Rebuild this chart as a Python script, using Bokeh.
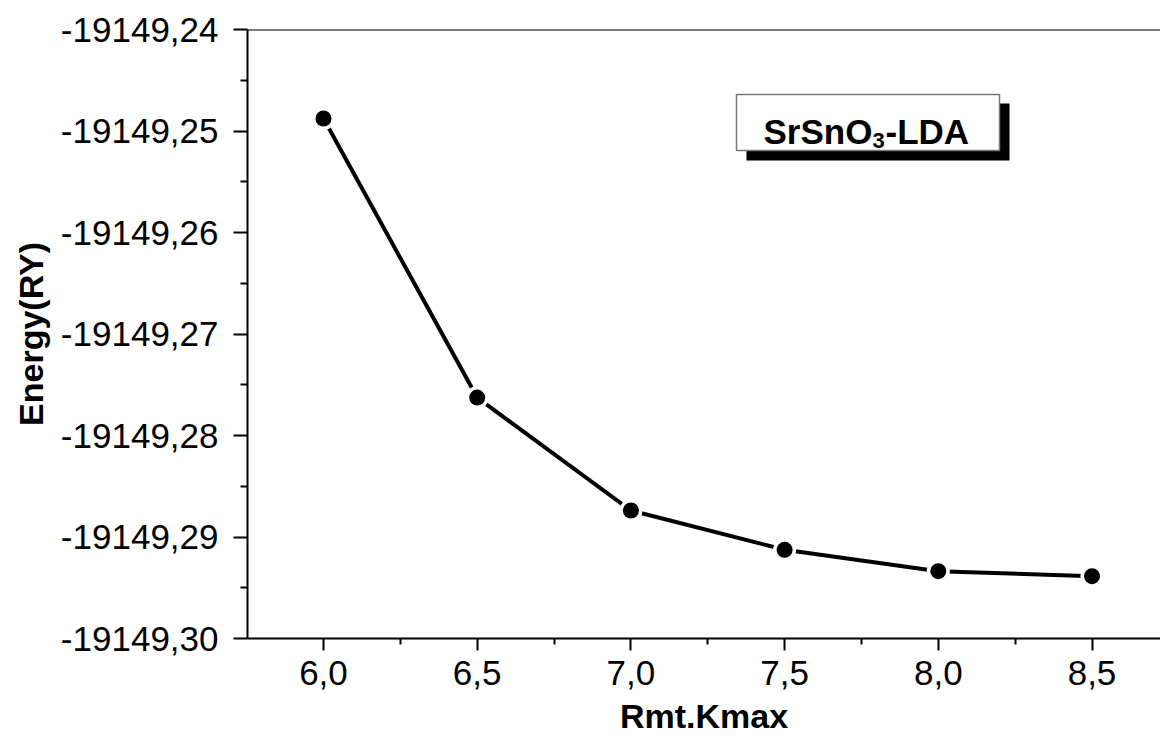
from bokeh.plotting import figure
from bokeh.models import (Range1d, FixedTicker, CustomJSTickFormatter, Span,
                          BoxAnnotation, Label)
from bokeh.embed import file_html
from bokeh.resources import INLINE

# ---- data ----
rmt_kmax = [6.0, 6.5, 7.0, 7.5, 8.0, 8.5]
energy = [-19149.24877, -19149.27626, -19149.28739, -19149.29126, -19149.29337, -19149.29386]

x_ticks = [6.0, 6.5, 7.0, 7.5, 8.0, 8.5]
x_minor = [5.75, 6.25, 6.75, 7.25, 7.75, 8.25]
y_ticks = [-19149.30, -19149.29, -19149.28, -19149.27, -19149.26, -19149.25, -19149.24]
y_minor = [-19149.295, -19149.285, -19149.275, -19149.265, -19149.255, -19149.245]

x_label = "Rmt.Kmax"
y_label = "Energy(RY)"

X0, X1 = 5.7528, 8.7228
Y0, Y1 = -19149.30, -19149.24

FONT = "Liberation Sans"

p = figure(width=1160, height=743, output_backend="svg", toolbar_location=None,
           x_range=Range1d(X0, X1), y_range=Range1d(Y0, Y1),
           min_border_left=247, min_border_right=0, min_border_top=29,
           min_border_bottom=105)
p.frame_width = 913
p.frame_height = 609
p.grid.visible = False
p.outline_line_color = None
p.background_fill_color = "white"
p.border_fill_color = "white"

for ax in (p.xaxis[0], p.yaxis[0]):
    ax.axis_line_width = 2
    ax.axis_line_color = "black"
    ax.major_tick_line_width = 2
    ax.minor_tick_line_width = 2
    ax.major_tick_line_color = "black"
    ax.minor_tick_line_color = "black"
    ax.major_tick_in = 0
    ax.minor_tick_in = 0
    ax.major_label_text_font = FONT
    ax.major_label_text_font_size = "35px"
    ax.major_label_text_color = "black"
    ax.axis_label_text_font = FONT
    ax.axis_label_text_font_style = "bold"
    ax.axis_label_text_font_size = "34px"
    ax.axis_label_text_color = "black"

p.xaxis.ticker = FixedTicker(ticks=x_ticks, minor_ticks=x_minor)
p.yaxis.ticker = FixedTicker(ticks=y_ticks, minor_ticks=y_minor)
p.xaxis.formatter = CustomJSTickFormatter(code="return tick.toFixed(1).replace('.', ',');")
p.yaxis.formatter = CustomJSTickFormatter(code="return tick.toFixed(2).replace('.', ',');")
p.xaxis.major_tick_out = 12
p.xaxis.minor_tick_out = 6
p.yaxis.major_tick_out = 14
p.yaxis.minor_tick_out = 7
p.xaxis.major_label_standoff = 10
p.yaxis.major_label_standoff = 15
p.xaxis.axis_label = x_label
p.yaxis.axis_label = y_label
p.xaxis.axis_label_standoff = 9
p.yaxis.axis_label_standoff = 8

# top frame line
p.add_layout(Span(location=Y1, dimension="width", line_color="black", line_width=2))

# data
p.line(rmt_kmax, energy, line_color="black", line_width=4)
p.scatter(rmt_kmax, energy, size=23, fill_color="white", line_color=None)
p.scatter(rmt_kmax, energy, size=16, fill_color="black", line_color=None)

# ---- helpers: pixel position -> data position ----
def px_x(px):
    return X0 + (px - 247) / 913 * (X1 - X0)

def px_y(py):
    return Y1 - (py - 29) / 609 * (Y1 - Y0)

# ---- label box ----
p.add_layout(BoxAnnotation(left=px_x(746), right=px_x(1009), top=px_y(103), bottom=px_y(160),
                           fill_color="black", fill_alpha=1, line_color=None))
p.add_layout(BoxAnnotation(left=px_x(736), right=px_x(999), top=px_y(94), bottom=px_y(150),
                           fill_color="white", fill_alpha=1, line_color="#777777",
                           line_alpha=1, line_width=1.5))

p.add_layout(Label(x=px_x(763), y=px_y(131), text="SrSnO", text_font=FONT, text_font_style="bold",
                   text_font_size="35px", text_color="black", text_baseline="alphabetic"))
p.add_layout(Label(x=px_x(872), y=px_y(140), text="3", text_font=FONT, text_font_style="bold",
                   text_font_size="22px", text_color="black", text_baseline="alphabetic"))
p.add_layout(Label(x=px_x(885), y=px_y(131), text="-LDA", text_font=FONT, text_font_style="bold",
                   text_font_size="35px", text_color="black", text_baseline="alphabetic"))

open("out.html", "w").write(file_html(p, INLINE))
